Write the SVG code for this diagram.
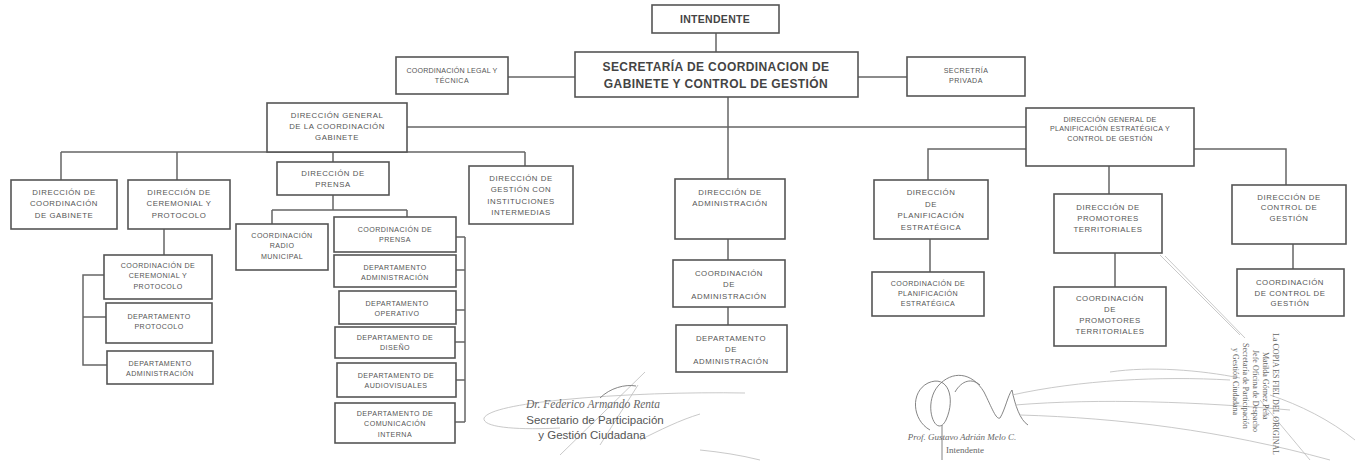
<svg xmlns="http://www.w3.org/2000/svg" width="1360" height="465" viewBox="0 0 1360 465">
<style>
.box{fill:#fff;stroke:#555;stroke-width:1.6}
.t{font-family:"Liberation Sans",Arial,sans-serif;font-size:7.8px;letter-spacing:0.55px;fill:#555;text-anchor:middle}
.s{font-size:7.1px;letter-spacing:0.45px}
.b{font-weight:bold;fill:#444}
.ln{stroke:#666;stroke-width:1.5;fill:none}
.sig{stroke:#777;stroke-width:0.9;fill:none}
.sigl{stroke:#bbb;stroke-width:0.8;fill:none}
.st{font-family:"Liberation Serif","Times New Roman",serif;fill:#666}
.ss{font-family:"Liberation Sans",Arial,sans-serif;fill:#555}
</style>
<rect width="1360" height="465" fill="#fff"/>

<g id="connectors">
<path class="ln" d="M716 33V52M508 77H575M858 77H907M728 97V179M407 127H1026"/>
<path class="ln" d="M61 152H525M61 152V180M177 152V180M333 152V162M525 152V166"/>
<path class="ln" d="M164 229V255M104 275H83V365H107M83 317H106"/>
<path class="ln" d="M333 195V210M272 210H407M272 210V224M407 210V217"/>
<path class="ln" d="M465 237V422M456 237H465M456 270H465M456 310H465M455 342H465M456 380H465M455 422H465"/>
<path class="ln" d="M728 239V260M728 307V325"/>
<path class="ln" d="M1194 149H1286V185M1026 149H928V180M1109 166V194"/>
<path class="ln" d="M930 239V272M1115 253V287M1293 244V269"/>
</g>

<g id="intendente"><rect class="box" x="652" y="5" width="127" height="28"/><text class="t b" x="715" y="23" style="font-size:10.5px;letter-spacing:0.3px">INTENDENTE</text></g>
<g id="secretaria"><rect class="box" x="575" y="52" width="283" height="45"/><text class="t b" x="716" y="71" style="font-size:12px;letter-spacing:0.4px">SECRETARÍA DE COORDINACION DE</text><text class="t b" x="716" y="88" style="font-size:12px;letter-spacing:0.4px">GABINETE Y CONTROL DE GESTIÓN</text></g>
<g id="legal"><rect class="box" x="396" y="57" width="112" height="37"/><text class="t s" x="452" y="73" style="letter-spacing:0.2px">COORDINACIÓN LEGAL Y</text><text class="t s" x="452" y="83">TÉCNICA</text></g>
<g id="privada"><rect class="box" x="907" y="57" width="118" height="39"/><text class="t s" x="966" y="73">SECRETRÍA</text><text class="t s" x="966" y="83">PRIVADA</text></g>

<g id="dg-coordinacion"><rect class="box" x="267" y="103" width="140" height="49"/><text class="t" x="337" y="118">DIRECCIÓN GENERAL</text><text class="t" x="337" y="129">DE LA COORDINACIÓN</text><text class="t" x="337" y="140">GABINETE</text></g>
<g id="dir-coord-gabinete"><rect class="box" x="11" y="180" width="106" height="49"/><text class="t" x="64" y="195">DIRECCIÓN  DE</text><text class="t" x="64" y="206">COORDINACIÓN</text><text class="t" x="64" y="218">DE GABINETE</text></g>
<g id="dir-ceremonial"><rect class="box" x="128" y="180" width="102" height="49"/><text class="t" x="179" y="195">DIRECCIÓN DE</text><text class="t" x="179" y="206">CEREMONIAL Y</text><text class="t" x="179" y="218">PROTOCOLO</text></g>
<g id="dir-prensa"><rect class="box" x="277" y="162" width="112" height="33"/><text class="t" x="333" y="176">DIRECCIÓN DE</text><text class="t" x="333" y="187">PRENSA</text></g>
<g id="dir-gestion"><rect class="box" x="469" y="166" width="104" height="58"/><text class="t" x="521" y="181">DIRECCIÓN  DE</text><text class="t" x="521" y="192">GESTIÓN CON</text><text class="t" x="521" y="204">INSTITUCIONES</text><text class="t" x="521" y="215">INTERMEDIAS</text></g>

<g id="coord-ceremonial"><rect class="box" x="104" y="255" width="108" height="44"/><text class="t s" x="158" y="268">COORDINACIÓN DE</text><text class="t s" x="158" y="278">CEREMONIAL Y</text><text class="t s" x="158" y="289">PROTOCOLO</text></g>
<g id="depto-protocolo"><rect class="box" x="106" y="303" width="106" height="40"/><text class="t s" x="159" y="319">DEPARTAMENTO</text><text class="t s" x="159" y="329">PROTOCOLO</text></g>
<g id="depto-administracion-1"><rect class="box" x="107" y="351" width="106" height="33"/><text class="t s" x="160" y="366">DEPARTAMENTO</text><text class="t s" x="160" y="376">ADMINISTRACIÓN</text></g>

<g id="coord-radio"><rect class="box" x="236" y="224" width="92" height="46"/><text class="t s" x="282" y="238">COORDINACIÓN</text><text class="t s" x="282" y="248">RADIO</text><text class="t s" x="282" y="259">MUNICIPAL</text></g>
<g id="coord-prensa"><rect class="box" x="334" y="217" width="122" height="35"/><text class="t s" x="395" y="232">COORDINACIÓN DE</text><text class="t s" x="395" y="242">PRENSA</text></g>
<g id="depto-administracion-2"><rect class="box" x="334" y="255" width="122" height="32"/><text class="t s" x="395" y="270">DEPARTAMENTO</text><text class="t s" x="395" y="280">ADMINISTRACIÓN</text></g>
<g id="depto-operativo"><rect class="box" x="339" y="291" width="117" height="33"/><text class="t s" x="397" y="306">DEPARTAMENTO</text><text class="t s" x="397" y="316">OPERATIVO</text></g>
<g id="depto-diseno"><rect class="box" x="335" y="327" width="120" height="31"/><text class="t s" x="395" y="340">DEPARTAMENTO  DE</text><text class="t s" x="395" y="350">DISEÑO</text></g>
<g id="depto-audiovisuales"><rect class="box" x="337" y="363" width="119" height="34"/><text class="t s" x="396" y="378">DEPARTAMENTO DE</text><text class="t s" x="396" y="388">AUDIOVISUALES</text></g>
<g id="depto-comunicacion"><rect class="box" x="335" y="403" width="120" height="40"/><text class="t s" x="395" y="416">DEPARTAMENTO DE</text><text class="t s" x="395" y="426">COMUNICACIÓN</text><text class="t s" x="395" y="437">INTERNA</text></g>

<g id="dir-administracion"><rect class="box" x="675" y="179" width="110" height="60"/><text class="t" x="730" y="195">DIRECCIÓN DE</text><text class="t" x="730" y="206">ADMINISTRACIÓN</text></g>
<g id="coord-administracion"><rect class="box" x="673" y="260" width="112" height="47"/><text class="t" x="729" y="276">COORDINACIÓN</text><text class="t" x="729" y="287">DE</text><text class="t" x="729" y="299">ADMINISTRACIÓN</text></g>
<g id="depto-administracion-3"><rect class="box" x="676" y="325" width="111" height="47"/><text class="t" x="731" y="341">DEPARTAMENTO</text><text class="t" x="731" y="352">DE</text><text class="t" x="731" y="364">ADMINISTRACIÓN</text></g>

<g id="dg-planificacion"><rect class="box" x="1026" y="108" width="168" height="58"/><text class="t s" x="1110" y="122" style="letter-spacing:0.3px">DIRECCIÓN GENERAL DE</text><text class="t s" x="1110" y="131" style="letter-spacing:0.3px">PLANIFICACIÓN ESTRATÉGICA Y</text><text class="t s" x="1110" y="141" style="letter-spacing:0.3px">CONTROL DE GESTIÓN</text></g>
<g id="dir-planificacion"><rect class="box" x="874" y="180" width="114" height="59"/><text class="t" x="931" y="195">DIRECCIÓN</text><text class="t" x="931" y="207">DE</text><text class="t" x="931" y="218">PLANIFICACIÓN</text><text class="t" x="931" y="230">ESTRATÉGICA</text></g>
<g id="dir-promotores"><rect class="box" x="1054" y="194" width="108" height="59"/><text class="t" x="1108" y="210">DIRECCIÓN DE</text><text class="t" x="1108" y="221">PROMOTORES</text><text class="t" x="1108" y="232">TERRITORIALES</text></g>
<g id="dir-control"><rect class="box" x="1232" y="185" width="114" height="59"/><text class="t" x="1289" y="200">DIRECCIÓN DE</text><text class="t" x="1289" y="210">CONTROL DE</text><text class="t" x="1289" y="221">GESTIÓN</text></g>
<g id="coord-planificacion"><rect class="box" x="872" y="272" width="112" height="44"/><text class="t s" x="928" y="286">COORDINACIÓN DE</text><text class="t s" x="928" y="296">PLANIFICACIÓN</text><text class="t s" x="928" y="306">ESTRATÉGICA</text></g>
<g id="coord-promotores"><rect class="box" x="1054" y="287" width="112" height="59"/><text class="t" x="1110" y="301">COORDINACIÓN</text><text class="t" x="1110" y="312">DE</text><text class="t" x="1110" y="323">PROMOTORES</text><text class="t" x="1110" y="334">TERRITORIALES</text></g>
<g id="coord-control"><rect class="box" x="1237" y="269" width="107" height="47"/><text class="t" x="1290" y="285">COORDINACIÓN</text><text class="t" x="1290" y="296">DE CONTROL DE</text><text class="t" x="1290" y="306">GESTIÓN</text></g>

<g id="signature-secretario">
<path class="sigl" d="M745 393C690 392 620 394 560 400C520 404 488 410 484 418C482 428 520 430 560 428"/>
<path class="sigl" d="M560 455L645 372M600 445L638 385"/>
<path class="sigl" d="M640 440C660 430 680 420 700 414M700 450C720 452 740 455 760 460"/>
<path class="sig" d="M600 398C610 388 625 384 636 386"/>
<text class="st" x="593" y="408" text-anchor="middle" font-size="11.5" font-style="italic">Dr. Federico Armando Renta</text>
<text class="ss" x="595" y="424" text-anchor="middle" font-size="11.5">Secretario de Participación</text>
<text class="ss" x="592" y="439" text-anchor="middle" font-size="11.5">y Gestión Ciudadana</text>
</g>

<g id="signature-intendente">
<path class="sig" d="M930 430C912 420 910 392 928 383C948 374 956 398 946 420C936 440 922 405 938 386C952 370 972 372 984 392C992 408 996 420 1000 418C1005 410 1008 395 1012 390C1015 405 1020 420 1028 425"/>
<path class="sig" d="M955 392C962 380 972 378 980 385M942 425V460"/>
<path class="sigl" d="M1012 395C1080 380 1160 376 1230 380M1015 405C1100 398 1200 402 1290 410M1020 415C1120 418 1220 430 1330 460M1110 372C1150 366 1200 370 1240 378"/>
<path class="sigl" d="M1160 255L1240 335M1165 256L1245 338M1260 400L1310 460M1270 395C1300 405 1330 420 1355 440"/>
<text class="st" x="962" y="440" text-anchor="middle" font-size="9" font-style="italic">Prof. Gustavo Adrián Melo C.</text>
<text class="st" x="965" y="453" text-anchor="middle" font-size="9">Intendente</text>
</g>

<g id="stamp" font-family="Liberation Serif, serif" font-size="8" fill="#666">
<text transform="translate(1273 333) rotate(90)">La COPIA ES FIEL DEL ORIGINAL</text>
<text transform="translate(1263 352) rotate(90)">Matilda Gómez Peña</text>
<text transform="translate(1253 350) rotate(90)">Jefe Oficina de Despacho</text>
<text transform="translate(1243 343) rotate(90)">Secretaría de Participación</text>
<text transform="translate(1233 348) rotate(90)">y Gestión Ciudadana</text>
</g>
</svg>
